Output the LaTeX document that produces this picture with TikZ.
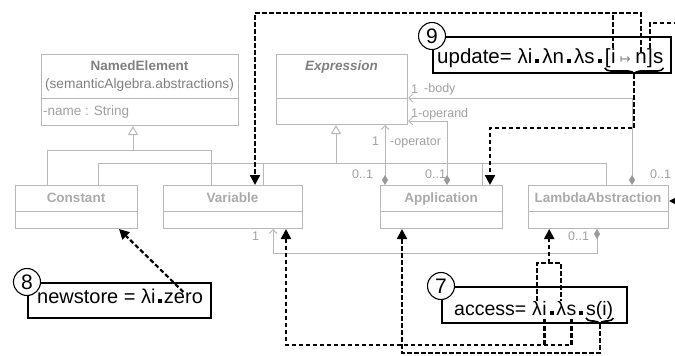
\documentclass[tikz,border=0pt]{standalone}
\usepackage{fontspec}
\setmainfont{Liberation Sans}
\newfontfamily\djvfont{DejaVu Sans}
\usetikzlibrary{arrows.meta,decorations.pathreplacing,calc}
\definecolor{umlline}{HTML}{B8B8B8}
\definecolor{umltext}{HTML}{AAAAAA}
\definecolor{umldark}{HTML}{808080}
\definecolor{lbl}{HTML}{A0A0A0}
\definecolor{diam}{HTML}{999999}
\newcommand{\blksq}[1]{\hspace{#1}\rule{4pt}{4pt}\hspace{#1}\null}
\begin{document}
\begin{tikzpicture}[x=1pt,y=-1pt,
  cls/.style={draw=umlline,line width=1pt,anchor=north west,inner sep=0pt},
  clsname/.style={font=\fontsize{13.5}{16}\selectfont\bfseries,text=umltext,inner sep=0pt,anchor=base},
  uml/.style={draw=umlline,line width=1pt},
  gen/.style={-{Triangle[open,width=10pt,length=9pt,fill=white]}},
  assoc/.style={{Diamond[length=10pt,width=6pt,color=diam,fill=diam]}-{Straight Barb[length=4pt,width=8pt]}},
  lab/.style={font=\fontsize{12.5}{15}\selectfont,text=lbl,inner sep=0pt,anchor=base west},
  fbox/.style={draw=black,line width=2.2pt,anchor=north west,inner sep=0pt},
  numc/.style={circle,draw=black,line width=1.1pt,fill=white,minimum size=27pt,inner sep=0pt,font=\fontsize{21}{24}\selectfont},
  ft/.style={font=\fontsize{20}{24}\selectfont,inner sep=0pt,anchor=base west},
  ftn/.style={font=\fontsize{20.5}{24}\selectfont,inner sep=0pt,anchor=base west},
  fts/.style={font=\fontsize{19.5}{24}\selectfont,inner sep=0pt,anchor=base west},
  dsh/.style={draw=black,line width=2.2pt,dash pattern=on 4.5pt off 2.5pt},
  arr/.style={-{Triangle[width=10pt,length=10pt]}},
  brc/.style={draw=black,line width=1.6pt,decorate,decoration={brace,mirror,amplitude=6pt}},
]
\useasboundingbox (0,0) rectangle (675,356);

% ---------------- classes ----------------
\node[cls,minimum width=197pt,minimum height=71pt] (NE) at (41,54) {};
\draw[uml] (41,98) -- (238,98);
\node[clsname,text=umldark] (NEn) at (139.5,70) {NamedElement};
\node[anchor=base,inner sep=0pt,font=\fontsize{13.7}{16}\selectfont,text=umldark] (NEp) at (139.5,88) {(semanticAlgebra.abstractions)};
\node[anchor=base west,inner sep=0pt,font=\fontsize{13.5}{16}\selectfont,text=lbl] (NEa) at (43,115) {-name : String};

\node[cls,minimum width=131pt,minimum height=70pt] (Expr) at (276,54) {};
\draw[uml] (276,98) -- (407,98);
\node[clsname,text=umldark,font=\fontsize{13.5}{16}\selectfont\bfseries\itshape] (Exprn) at (341.5,70) {Expression};

\node[cls,minimum width=122pt,minimum height=43pt] (Const) at (15,185) {};
\draw[uml] (15,211) -- (137,211);
\node[clsname] (Constn) at (76,202) {Constant};

\node[cls,minimum width=139pt,minimum height=43pt] (Var) at (163,185) {};
\draw[uml] (163,211) -- (302,211);
\node[clsname] (Varn) at (232.5,202) {Variable};

\node[cls,minimum width=122pt,minimum height=43pt] (App) at (380,185) {};
\draw[uml] (380,211) -- (502,211);
\node[clsname] (Appn) at (441,202) {Application};

\node[cls,minimum width=140pt,minimum height=43pt] (Lam) at (528,185) {};
\draw[uml] (528,211) -- (668,211);
\node[clsname] (Lamn) at (598,202) {LambdaAbstraction};

% ---------------- generalizations ----------------
\coordinate (gNE) at (133,150);
\coordinate (gC1) at (47,150);
\coordinate (gV1) at (211,150);
\draw[uml] (gC1 |- Const.north) -- (gC1) -- (gV1) -- (gV1 |- Var.north);
\draw[uml,gen] (gNE) -- (gNE |- NE.south);

\coordinate (gEx) at (336,163);
\coordinate (gC2) at (98,163);
\coordinate (gV2) at (263,163);
\coordinate (gA2) at (482,163);
\coordinate (gL2) at (606,163);
\draw[uml] (gC2 |- Const.north) -- (gC2) -- (gL2) -- (gL2 |- Lam.north);
\draw[uml] (gV2) -- (gV2 |- Var.north);
\draw[uml] (gA2) -- (gA2 |- App.north);
\draw[uml,gen] (gEx) -- (gEx |- Expr.south);

% ---------------- associations ----------------
\coordinate (cB) at (632,98);
\draw[uml,assoc] (cB |- Lam.north) -- (cB) -- (cB -| Expr.east);
\coordinate (cO) at (447,121);
\draw[uml,assoc] (cO |- App.north) -- (cO) -- (cO -| Expr.east);
\coordinate (cR) at (385,150);
\draw[uml,assoc] (cR |- App.north) -- (cR |- Expr.south);
\coordinate (cP1) at (597,253);
\coordinate (cP2) at (273,253);
\draw[uml,assoc] (cP1 |- Lam.south) -- (cP1) -- (cP2) -- (cP2 |- Var.south);

\node[lab] (lB1) at (411,93) {1};
\node[lab] (lB2) at (424,92) {-body};
\node[lab] (lO) at (411,117) {1-operand};
\node[lab] (lR1) at (372,145) {1};
\node[lab] (lR2) at (390,145) {-operator};
\node[lab] (lm1) at (352,178) {0..1};
\node[lab] (lm2) at (425,178) {0..1};
\node[lab] (lm3) at (650,178) {0..1};
\node[lab] (lm4) at (568,240) {0..1};
\node[lab] (lV1) at (252,240) {1};

% ---------------- formula boxes ----------------
\node[fbox,minimum width=238pt,minimum height=36pt] (B9) at (432,36) {};
\node[ftn] (t9a) at (437,63) {update= λi\blksq{3pt}λn\blksq{3pt}λs\blksq{3pt}};
\node[ftn] (t9b) at (t9a.base east) {[};
\node[ftn] (t9i) at (t9b.base east) {i};
\node[ftn,text=gray] (t9m) at (t9i.base east) {\hspace{4pt}{\djvfont\fontsize{13}{15}\selectfont ↦}\hspace{4pt}\null};
\node[ftn] (t9n) at (t9m.base east) {n};
\node[ftn] (t9c) at (t9n.base east) {]};
\node[ftn] (t9s) at (t9c.base east) {s};
\node[numc] (c9) at (B9.north west) {9};

\node[fbox,minimum width=183pt,minimum height=35pt] (B8) at (27,282) {};
\node[ft] (t8a) at (37,303) {newstore = λi\blksq{2pt}};
\node[ft] (t8z) at (t8a.base east) {zero};
\node[numc] (c8) at (B8.north west) {8};

\node[fbox,minimum width=185pt,minimum height=36pt] (B7) at (441,286) {};
\node[fts] (t7a) at (454,315) {access=\hspace{5.5pt}\null};
\node[fts] (t7l1) at (t7a.base east) {λ};
\node[fts] (t7i) at (t7l1.base east) {i};
\node[fts] (t7d1) at (t7i.base east) {\blksq{2.5pt}};
\node[fts] (t7l2) at (t7d1.base east) {λ};
\node[fts] (t7s) at (t7l2.base east) {s};
\node[fts] (t7d2) at (t7s.base east) {\blksq{2.5pt}};
\node[fts] (t7si) at (t7d2.base east) {s(i)};
\node[numc] (c7) at (B7.north west) {7};

% ---------------- dashed mappings ----------------
\coordinate (k9) at (255,13);
\draw[dsh] (t9i.north) -- (t9i.north |- k9);
\draw[dsh,arr] (t9n.north) |- (k9) -- (k9 |- Var.north);
\coordinate (r9) at (690,23);
\draw[dsh,arr] (t9c.north) |- (r9) |- ($(Lam.east)+(0,-6)$);
\draw[brc] ($(t9b.base west)+(0,5)$) -- ($(t9s.base east)+(0,5)$);
\coordinate (b9) at ($(t9b.base west)!0.5!(t9s.base east)+(0,11)$);
\coordinate (m9) at (490,128);
\draw[dsh,arr] (b9) |- (m9) -- (m9 |- App.north);

\coordinate (k8) at ($(Const.south east)+(-19,0)$);
\draw[dsh,arr] (t8z.north) -- (k8);

\coordinate (k7) at (0,263);
\draw[dsh] (t7l1.north) -- (t7l1.north |- k7) -- (t7l2.north |- k7) -- (t7l2.north);
\coordinate (j7) at ($(t7l1.north |- k7)!0.5!(t7l2.north |- k7)$);
\draw[dsh,arr] (j7) -- (j7 |- Lam.south);
\coordinate (v7) at (286,345);
\draw[dsh,shorten <=4pt] (t7i.south) -- (t7i.south |- v7);
\draw[dsh,arr,shorten <=4pt] (t7s.south) |- (v7) -- (v7 |- Var.south);
\draw[brc] ($(t7si.base west)+(0,3)$) -- ($(t7si.base east)+(0,3)$);
\coordinate (b7) at ($(t7si.base west)!0.5!(t7si.base east)+(0,9)$);
\coordinate (a7) at (402,353);
\draw[dsh,arr] (b7) |- (a7) -- (a7 |- App.south);
\end{tikzpicture}
\end{document}
